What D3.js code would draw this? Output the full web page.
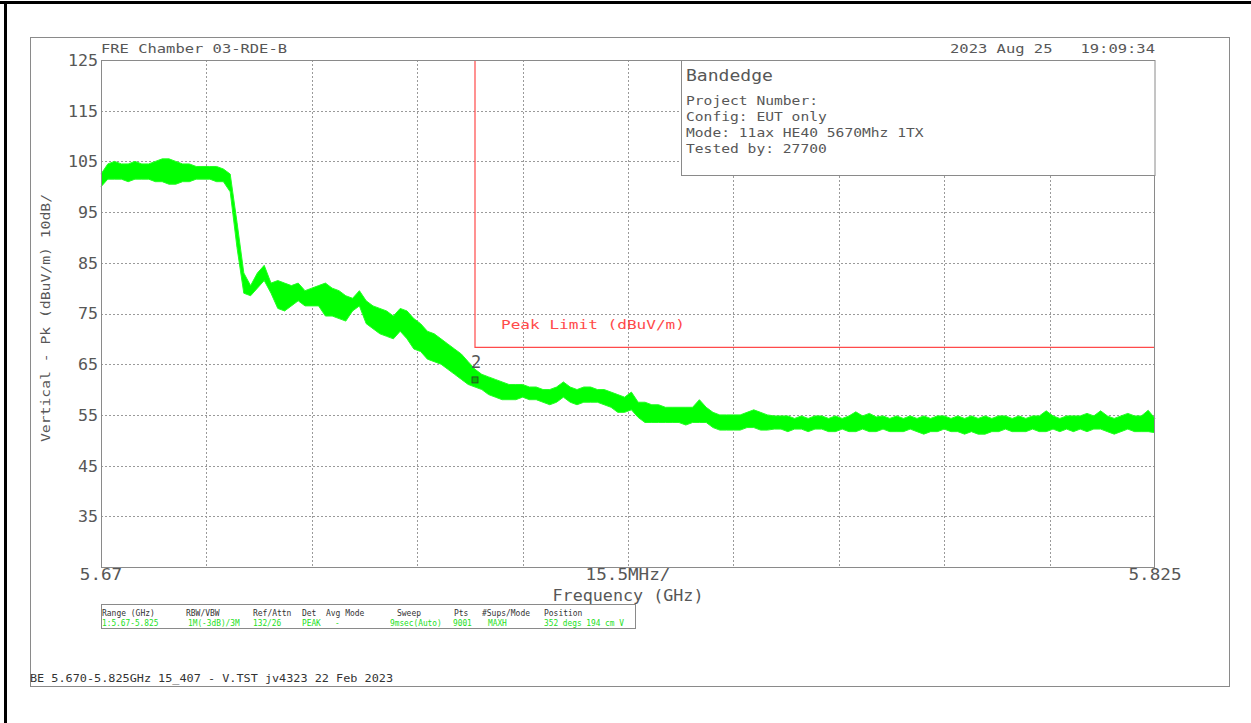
<!DOCTYPE html>
<html><head><meta charset="utf-8">
<script src="https://cdn.jsdelivr.net/npm/d3@7/dist/d3.min.js"></script>
<style>
body{margin:0;background:#fff}
svg{display:block}
text{font-family:"DejaVu Sans Mono","Liberation Mono",monospace;white-space:pre}
</style>
</head><body>
<svg id="c" width="1251" height="723"></svg>
<script>
// ---------------- DATA ----------------
const sweepStartGHz = 5.670;
const sweepStepGHz = 0.001;
// lower / upper envelope of the peak trace (dBuV/m), one value per 1 MHz
const traceLo = [
 100,101.5,101.5,101.5,101,101.5,101.5,101.5,101,101,100.5,100.5,101,101,101.5,101.5,101.5,101,101,
 99,88,79,78.5,80,81.5,79,76,75.5,76.5,77.5,76.5,
 76.5,76.5,74.5,74.5,74,73.5,75.5,76.5,73,72,71,70.5,70,
 71.5,70,68,67.5,66,65.5,65,64,63,62,61,60.5,60,
 59,58.5,58,58,58,58.5,58,58,57.5,57,57.5,58.5,57.5,
 57,57.5,57.5,57.5,57,56.5,55.5,55.5,56,54.5,53.5,53.5,53.5,
 53.5,53.5,53.5,53,53.5,53.5,53.5,52.5,52,52,52,52,52.5,52.5,52,52,
 52.2,52.2,51.7,52.2,52.2,51.7,52.2,52.2,51.7,51.7,52.2,51.7,51.7,52.2,51.7,51.7,52.2,51.7,51.7,51.7,
 52.2,51.7,51.2,51.7,51.7,52.2,51.7,51.7,51.2,51.7,51.2,51.2,51.7,51.7,52.2,51.7,51.7,51.7,52.2,51.7,
 51.7,52.2,51.7,52.2,51.7,52.2,51.7,52.2,52.2,51.7,51.2,51.7,52.2,51.7,51.7,51.7,51.5
];
const traceHi = [
 102.5,104.5,105,104.5,104.5,105,104.5,104.5,105,105.5,105.5,105,104.5,104.5,104,104,104,104,103.5,
 102.5,93,83,80.5,83,84.5,81,81.5,81,80.5,81,79.5,
 80,80.5,81,80,79.5,78.5,78,79.5,77.5,76.5,76,75.5,74.5,
 76,75.5,74,73,71.5,71,70,69,68,67,65.5,64,63,
 62.5,62,61.5,61,61,61,60.5,60.5,60,60,60.5,61.5,60.5,
 60,60.5,60.5,60,60,59.5,59,58.5,59.5,57.5,57.5,57,57,
 56.5,56.5,56.5,56.5,56.5,58,56.5,55.5,55,55,55,55,55.5,56,55.5,55,
 54.8,54.8,54.8,54.3,54.8,54.3,54.8,54.8,54.3,54.8,54.3,54.8,55.6,54.8,55.3,54.6,54.8,54.3,54.8,54.3,
 54.8,54.3,54.8,54.3,54.8,54.8,54.3,54.8,54.3,54.8,54.3,54.8,54.3,54.8,54.8,54.3,54.8,54.3,54.8,54.8,
 55.8,54.8,54.3,54.8,54.8,54.8,55.3,54.8,55.8,54.8,54.3,54.8,55.3,54.8,54.8,55.9,54.3
];
const yTickValues = [125,115,105,95,85,75,65,55,45,35];
const yGridValues = [115,105,95,85,75,65,55,45,35];
const xGridValues = [5.6855,5.701,5.7165,5.732,5.7475,5.763,5.7785,5.794,5.8095];
const xLabelValues = [5.67, 5.7475, 5.825];
const xLabelTexts = ["5.67", "15.5MHz/", "5.825"];
const limitFreq = [5.725, 5.725, 5.825];
const limitLevel = [125, 68.3, 68.3];
const markerFreq = 5.725, markerLevel = 61.9, markerName = "2";
const legendLines = ["Project Number:", "Config: EUT only", "Mode: 11ax HE40 5670Mhz 1TX", "Tested by: 27700"];
const tableHeads = ["Range (GHz)","RBW/VBW","Ref/Attn","Det","Avg Mode","Sweep","Pts","#Sups/Mode","Position"];
const tableVals  = ["1:5.67-5.825","1M(-3dB)/3M","132/26","PEAK","-","9msec(Auto)","9001","MAXH","352 degs 194 cm V"];

// ---------------- LAYOUT ----------------
const svg = d3.select("#c");
const L = 101, R = 1155, T = 60, B = 567;
const x = d3.scaleLinear().domain([5.67, 5.825]).range([L, R]);
const y = d3.scaleLinear().domain([25, 125]).range([B, T]);
const GREY = "#8a8a8a", TXT = "#575757";

function txt(g, px, py, s, size, opt) {
  opt = opt || {};
  const t = g.append("text").attr("x", px).attr("y", py).text(s)
    .attr("xml:space", "preserve")
    .attr("font-size", size).attr("fill", opt.fill || TXT)
    .attr("text-anchor", opt.anchor || "start");
  if (opt.w) t.attr("textLength", opt.w).attr("lengthAdjust", "spacingAndGlyphs");
  if (opt.rot) t.attr("transform", opt.rot);
  return t;
}

// outer black frame (top + left)
svg.append("rect").attr("x", 0).attr("y", 1).attr("width", 1251).attr("height", 3).attr("fill", "#000");
svg.append("rect").attr("x", 4).attr("y", 1).attr("width", 3).attr("height", 722).attr("fill", "#000");
// inner grey frame
svg.append("rect").attr("x", 30.5).attr("y", 37.5).attr("width", 1199).attr("height", 649)
  .attr("fill", "none").attr("stroke", GREY).attr("stroke-width", 1);

// grid
const grid = svg.append("g");
grid.selectAll("line.v").data(xGridValues).enter().append("line")
  .attr("x1", d => Math.round(x(d)) + 0.5).attr("x2", d => Math.round(x(d)) + 0.5)
  .attr("y1", T).attr("y2", B)
  .attr("stroke", "#9a9a9a").attr("stroke-dasharray", "2,2");
grid.selectAll("line.h").data(yGridValues).enter().append("line")
  .attr("y1", d => Math.round(y(d)) + 0.5).attr("y2", d => Math.round(y(d)) + 0.5)
  .attr("x1", L).attr("x2", R)
  .attr("stroke", "#9a9a9a").attr("stroke-dasharray", "2,2");

// y axis tick labels via d3 axis
const yAxis = svg.append("g").attr("transform", `translate(${L},0)`)
  .call(d3.axisLeft(y).tickValues(yTickValues).tickSize(0).tickPadding(3).tickFormat(d3.format("d")));
yAxis.select(".domain").remove();
yAxis.selectAll("text").attr("font-family", '"DejaVu Sans Mono",monospace')
  .attr("font-size", 15).attr("fill", TXT).attr("dy", "0.36em")
  .attr("textLength", function(d){ return String(d).length * 10; })
  .attr("lengthAdjust", "spacingAndGlyphs");

// x labels
xLabelValues.forEach((v, i) => {
  const s = xLabelTexts[i];
  txt(svg, x(v), 580, s, 15, {anchor: "middle", w: s.length * 10.6});
});
txt(svg, x(5.7475), 601, "Frequency (GHz)", 15, {anchor: "middle", w: 151});

// y axis title
txt(svg, 0, 0, "Vertical - Pk (dBuV/m) 10dB/", 13, {anchor: "middle", w: 248,
  rot: "translate(50,318) rotate(-90)"});

// headers
txt(svg, L, 53, "FRE Chamber 03-RDE-B", 13, {w: 186});
txt(svg, R, 53, "2023 Aug 25   19:09:34", 13, {anchor: "end", w: 205});

// limit line
const limitData = limitFreq.map((f, i) => [f, limitLevel[i]]);
svg.append("path").datum(limitData)
  .attr("d", d3.line().x(d => x(d[0])).y(d => y(d[1])))
  .attr("fill", "none").attr("stroke", "#ff4a4a").attr("stroke-width", 1.2);
txt(svg, 501, 329, "Peak Limit (dBuV/m)", 13, {fill: "#ff4a4a", w: 184});

// trace
const trace = traceLo.map((lo, i) => ({f: sweepStartGHz + i * sweepStepGHz, lo: lo, hi: traceHi[i]}));
svg.append("path").datum(trace)
  .attr("d", d3.area().x(d => x(d.f)).y0(d => y(d.lo)).y1(d => y(d.hi)))
  .attr("fill", "#00ff00").attr("stroke", "none");
svg.append("path").datum(trace)
  .attr("d", d3.line().x(d => x(d.f)).y(d => y(d.hi)))
  .attr("fill", "none").attr("stroke", "#22ff22").attr("stroke-width", 1);
svg.append("path").datum(trace)
  .attr("d", d3.line().x(d => x(d.f)).y(d => y(d.lo)))
  .attr("fill", "none").attr("stroke", "#22ff22").attr("stroke-width", 1);

// marker
svg.append("rect").attr("x", x(markerFreq) - 3).attr("y", y(markerLevel) - 3)
  .attr("width", 6).attr("height", 6).attr("fill", "#00c000").attr("stroke", "#333").attr("stroke-width", 0.8);
txt(svg, x(markerFreq) + 1, y(markerLevel) - 12, markerName, 17, {anchor: "middle"});

// plot border
svg.append("rect").attr("x", L + 0.5).attr("y", T + 0.5).attr("width", R - L - 1).attr("height", B - T)
  .attr("fill", "none").attr("stroke", GREY).attr("stroke-width", 1);

// legend box
svg.append("rect").attr("x", 681.5).attr("y", T + 0.5).attr("width", R - 681.5).attr("height", 115)
  .attr("fill", "#fff").attr("stroke", GREY).attr("stroke-width", 1);
txt(svg, 686, 81, "Bandedge", 15, {w: 87});
const legendYs = [105, 121, 137, 153];
legendLines.forEach((s, i) => txt(svg, 686, legendYs[i], s, 13, {w: s.length * 8.8}));

// settings table
svg.append("rect").attr("x", 101.5).attr("y", 604.5).attr("width", 534).attr("height", 24)
  .attr("fill", "none").attr("stroke", GREY).attr("stroke-width", 1);
const headX = [102,186,253,302,326,397,454,482,544];
const valX  = [102,188,253,302,335,390,453,488,544];
tableHeads.forEach((s, i) => txt(svg, headX[i], 616, s, 8, {fill: "#333", w: s.length * 4.8}));
tableVals.forEach((s, i) => txt(svg, valX[i], 626, s, 8, {fill: "#22e022", w: s.length * 4.7}));

// footer
txt(svg, 30, 682, "BE 5.670-5.825GHz 15_407 - V.TST jv4323 22 Feb 2023", 10, {fill: "#333", w: 363});
</script>
</body></html>
